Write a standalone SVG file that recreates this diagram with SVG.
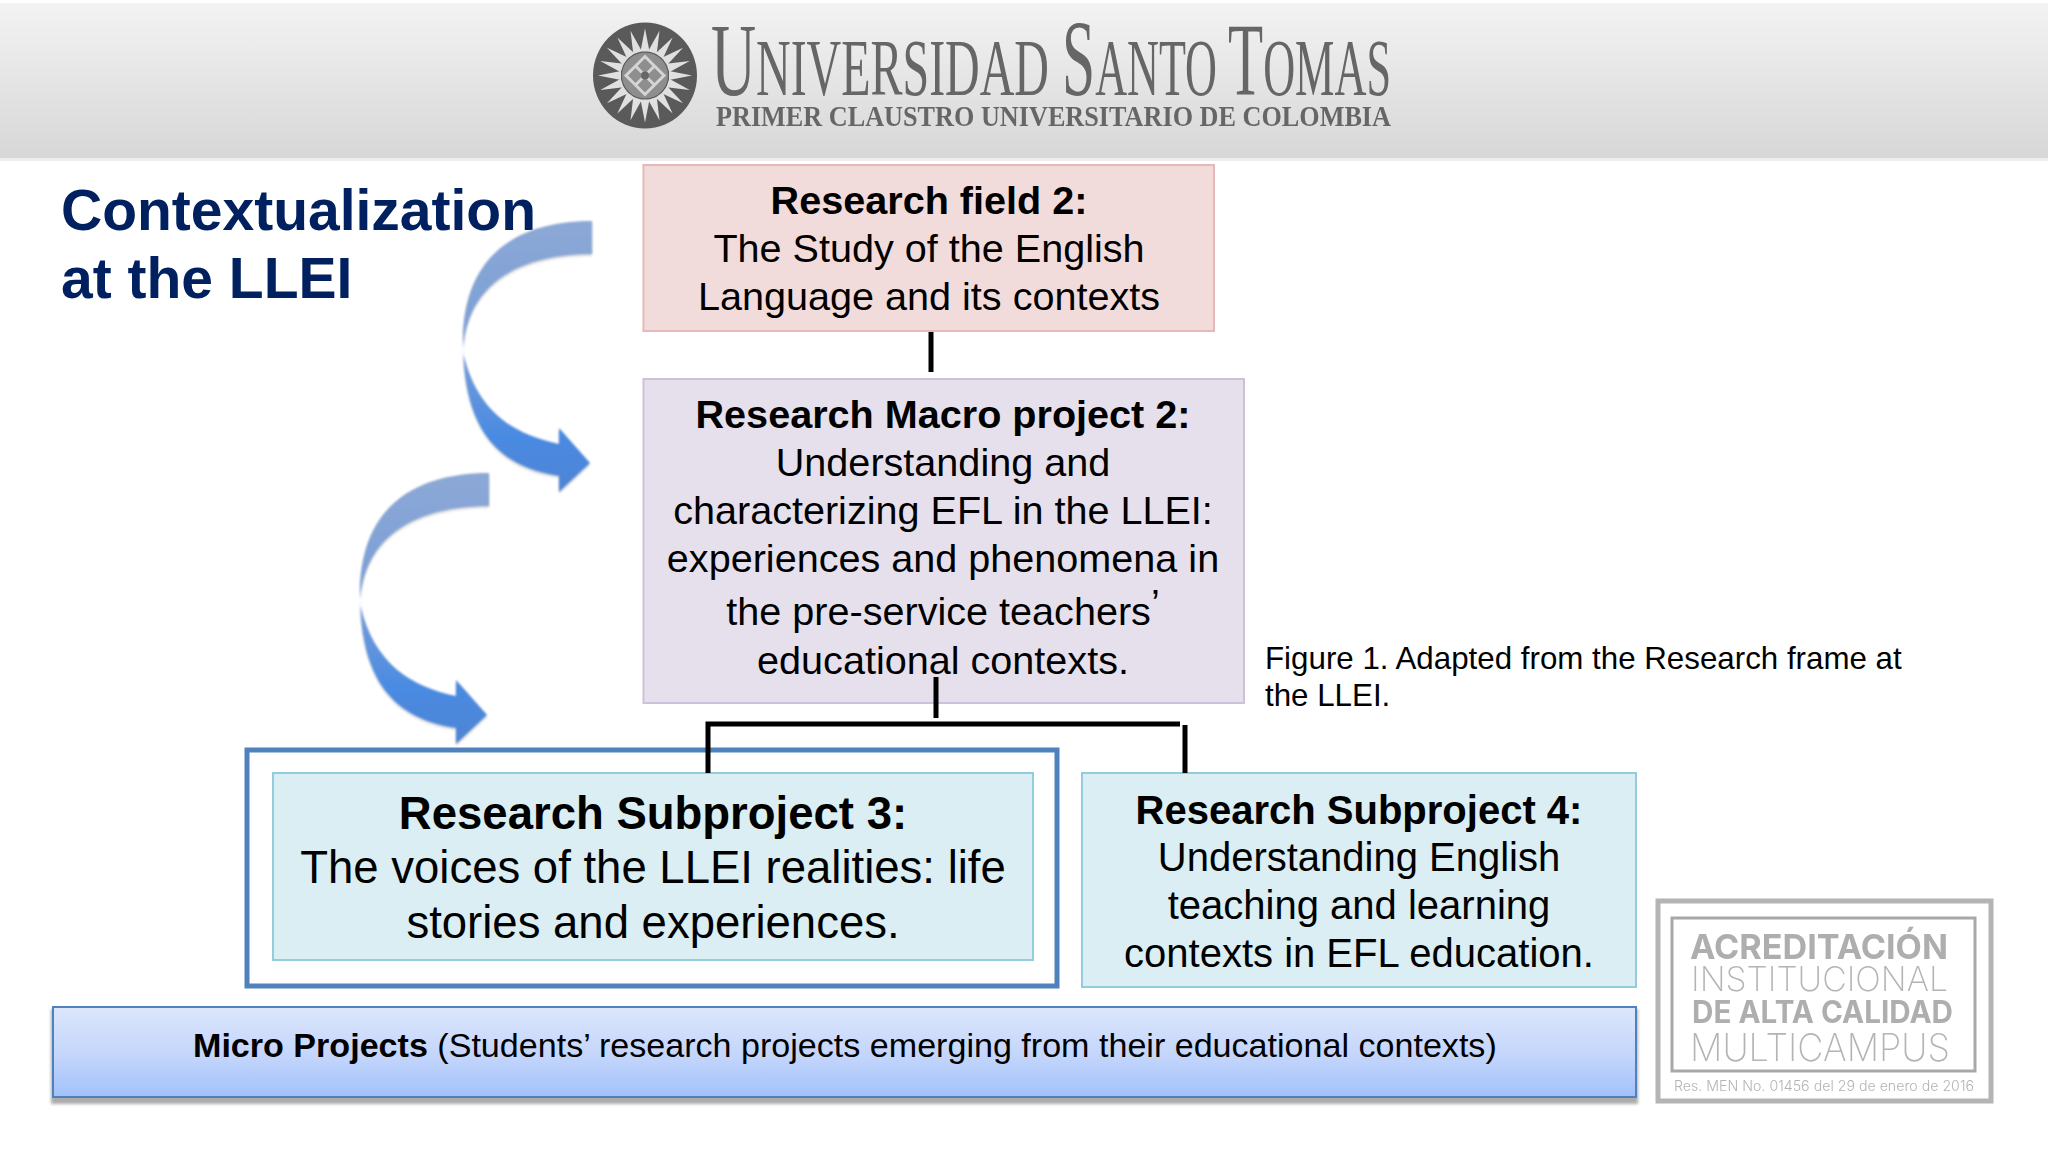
<svg xmlns="http://www.w3.org/2000/svg" xmlns:xlink="http://www.w3.org/1999/xlink" width="2048" height="1152" viewBox="0 0 2048 1152">
<style>
text{font-family:"Liberation Sans",Arial,sans-serif;fill:#000}
.b{font-size:39.600px;text-anchor:middle}
.b4{font-size:40px;text-anchor:middle}
.big{font-size:45.500px;text-anchor:middle}
.s{font-weight:700}
.title{font-size:57px;font-weight:700;fill:#002060}
.cap{font-size:31.300px}
.box{stroke-width:2}
.conn{stroke:#000;stroke-width:5;fill:none}
.lg{font-family:"Liberation Serif",serif;fill:#666}
.bd{font-family:Inter,"Liberation Sans",sans-serif;fill:#aeaeae}
.bl{font-family:Inter,"Liberation Sans",sans-serif;fill:#b4b4b4}
</style>
<defs>
<linearGradient id="hdr" x1="0" y1="0" x2="0" y2="1"><stop offset="0" stop-color="#f3f3f3"/><stop offset="1" stop-color="#d7d7d7"/></linearGradient>
<linearGradient id="micro" x1="0" y1="0" x2="0" y2="1"><stop offset="0" stop-color="#dce7fd"/><stop offset=".55" stop-color="#c3d5fb"/><stop offset="1" stop-color="#a2c1fb"/></linearGradient>
<linearGradient id="arr" x1="0" y1="0" x2="0" y2="1"><stop offset="0" stop-color="#8ca8d6"/><stop offset=".45" stop-color="#7a9fd8"/><stop offset=".8" stop-color="#4a8ae2"/><stop offset="1" stop-color="#4f85d4"/></linearGradient>
<filter id="soft" x="-10%" y="-10%" width="120%" height="120%"><feGaussianBlur stdDeviation=".8"/></filter>
<filter id="soft2" x="-5%" y="-5%" width="110%" height="110%"><feGaussianBlur stdDeviation=".6"/></filter>
<filter id="sh" x="-5%" y="-20%" width="110%" height="140%"><feGaussianBlur stdDeviation="1.800"/></filter>
<filter id="sh2" x="-5%" y="-20%" width="110%" height="140%"><feGaussianBlur stdDeviation="1.500"/></filter>
<path id="curve" d="M592 221C530 221 464 245 463 340C463 420 490 466 559 476L559 492L590 463L559 428L559 444C515 435 476 412 463 352C466 280 525 254 592 254Z"/>
<path id="ray" d="M-4.500 -24L0 -47L4.500 -24Z" fill="#e0e0e0"/>
</defs>
<rect width="2048" height="1152" fill="#fff"/>
<g id="header">
<rect x="0" y="3" width="2048" height="155" fill="url(#hdr)"/>
<rect x="0" y="158" width="2048" height="3" fill="#eeeeee"/>
<g id="logo" filter="url(#soft2)">
<ellipse cx="645" cy="75.500" rx="52" ry="53" fill="#5a5a5a"/>
<g transform="translate(645 75.500)">
<use xlink:href="#ray"/><use xlink:href="#ray" transform="rotate(18)"/><use xlink:href="#ray" transform="rotate(36)"/><use xlink:href="#ray" transform="rotate(54)"/><use xlink:href="#ray" transform="rotate(72)"/><use xlink:href="#ray" transform="rotate(90)"/><use xlink:href="#ray" transform="rotate(108)"/><use xlink:href="#ray" transform="rotate(126)"/><use xlink:href="#ray" transform="rotate(144)"/><use xlink:href="#ray" transform="rotate(162)"/><use xlink:href="#ray" transform="rotate(180)"/><use xlink:href="#ray" transform="rotate(198)"/><use xlink:href="#ray" transform="rotate(216)"/><use xlink:href="#ray" transform="rotate(234)"/><use xlink:href="#ray" transform="rotate(252)"/><use xlink:href="#ray" transform="rotate(270)"/><use xlink:href="#ray" transform="rotate(288)"/><use xlink:href="#ray" transform="rotate(306)"/><use xlink:href="#ray" transform="rotate(324)"/><use xlink:href="#ray" transform="rotate(342)"/>
<circle r="23" fill="#8e8e8e"/>
<path d="M0 -19L19 0L0 19L-19 0Z M-10 -10L10 10 M10 -10L-10 10" fill="none" stroke="#d4d4d4" stroke-width="3"/>
<circle r="4" fill="#666"/>
</g>
<text class="lg" x="711" y="95" textLength="338" lengthAdjust="spacingAndGlyphs" font-size="80"><tspan font-size="104">U</tspan>NIVERSIDAD</text>
<text class="lg" x="1062" y="95" textLength="155" lengthAdjust="spacingAndGlyphs" font-size="80"><tspan font-size="108">S</tspan>ANTO</text>
<text class="lg" x="1228" y="95" textLength="163" lengthAdjust="spacingAndGlyphs" font-size="80"><tspan font-size="104">T</tspan>OMAS</text>
<text class="lg" x="716" y="126" textLength="675" lengthAdjust="spacingAndGlyphs" font-size="30" font-weight="700">PRIMER CLAUSTRO UNIVERSITARIO DE COLOMBIA</text>
</g>
</g>
<g id="heading">
<text class="title" x="61" y="230">Contextualization</text>
<text class="title" x="61" y="298">at the LLEI</text>
</g>
<g id="arrows">
<use xlink:href="#curve" fill="#999" opacity=".35" filter="url(#sh)" transform="translate(0 2)"/>
<use xlink:href="#curve" fill="url(#arr)" filter="url(#soft)"/>
<g transform="translate(-103 252)">
<use xlink:href="#curve" fill="#999" opacity=".35" filter="url(#sh)" transform="translate(0 2)"/>
<use xlink:href="#curve" fill="url(#arr)" filter="url(#soft)"/>
</g>
</g>
<g id="field2">
<rect class="box" x="643.500" y="165" width="570.500" height="166" fill="#f2dcdb" stroke="#e6b9b8"/>
<text class="b" x="929" y="214"><tspan class="s">Research field 2:</tspan></text>
<text class="b" x="929" y="262">The Study of the English</text>
<text class="b" x="929" y="310">Language and its contexts</text>
</g>
<g id="macro2">
<rect class="box" x="643.500" y="379" width="600.500" height="324" fill="#e6e0ec" stroke="#ccc1da"/>
<text class="b" x="943" y="428"><tspan class="s">Research Macro project 2:</tspan></text>
<text class="b" x="943" y="476">Understanding and</text>
<text class="b" x="943" y="524">characterizing EFL in the LLEI:</text>
<text class="b" x="943" y="572">experiences and phenomena in</text>
<text class="b" x="943" y="625">the pre-service teachers<tspan dy="-8">’</tspan></text>
<text class="b" x="943" y="674">educational contexts.</text>
</g>
<g id="caption">
<text class="cap" x="1265" y="669">Figure 1. Adapted from the Research frame at</text>
<text class="cap" x="1265" y="706">the LLEI.</text>
</g>
<g id="subproject3">
<rect x="247" y="750" width="810" height="236" fill="#fff" stroke="#4f81bd" stroke-width="5"/>
<rect class="box" x="273" y="773" width="760" height="187" fill="#daeef3" stroke="#92cddc"/>
<text class="big" x="653" y="829"><tspan class="s">Research Subproject 3:</tspan></text>
<text class="big" x="653" y="883">The voices of the LLEI realities: life</text>
<text class="big" x="653" y="938">stories and experiences.</text>
</g>
<g id="subproject4">
<rect class="box" x="1082" y="773" width="554" height="214" fill="#daeef3" stroke="#92cddc"/>
<text class="b4" x="1359" y="824"><tspan class="s">Research Subproject 4:</tspan></text>
<text class="b4" x="1359" y="871">Understanding English</text>
<text class="b4" x="1359" y="919">teaching and learning</text>
<text class="b4" x="1359" y="967">contexts in EFL education.</text>
</g>
<g id="micro-projects">
<rect x="51" y="1009" width="1587" height="95" fill="#8a8a8a" opacity=".7" filter="url(#sh2)"/>
<rect x="53" y="1007" width="1583" height="90" fill="url(#micro)" stroke="#4f81bd" stroke-width="2"/>
<text x="193" y="1057" font-size="34.100"><tspan class="s">Micro Projects</tspan> (Students’ research projects emerging from their educational contexts)</text>
</g>
<g id="connectors" class="conn">
<path d="M931 332V372"/>
<path d="M936 677V718"/>
<path d="M708 773V724H1180"/>
<path d="M1185 725V773"/>
</g>
<g id="badge" filter="url(#soft2)">
<rect x="1658" y="901" width="333" height="200" fill="#fff" stroke="#b4b4b4" stroke-width="5"/>
<rect x="1672" y="918" width="303" height="153" fill="none" stroke="#a8a8a8" stroke-width="3"/>
<text class="bd" x="1690" y="959" font-size="34" font-weight="700" textLength="258" lengthAdjust="spacingAndGlyphs">ACREDITACIÓN</text>
<text class="bl" x="1691" y="991" font-size="34" font-weight="200" textLength="257" lengthAdjust="spacingAndGlyphs">INSTITUCIONAL</text>
<text class="bd" x="1692" y="1023" font-size="31" font-weight="700" textLength="261" lengthAdjust="spacingAndGlyphs">DE ALTA CALIDAD</text>
<text class="bl" x="1690" y="1061" font-size="38" font-weight="200" textLength="260" lengthAdjust="spacingAndGlyphs">MULTICAMPUS</text>
<text class="bl" x="1674" y="1091" font-size="14" font-weight="300" textLength="300" lengthAdjust="spacingAndGlyphs">Res. MEN No. 01456 del 29 de enero de 2016</text>
</g>
</svg>
